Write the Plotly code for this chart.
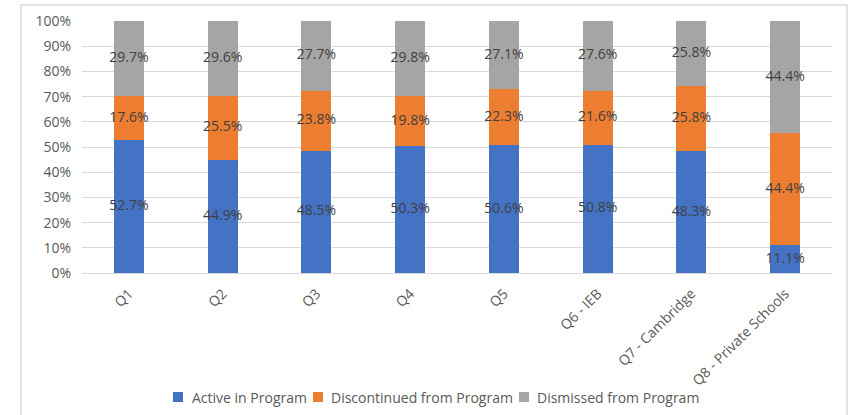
import plotly.graph_objects as go

categories = ["Q1", "Q2", "Q3", "Q4", "Q5", "Q6 - IEB", "Q7 - Cambridge", "Q8 - Private Schools"]
active = [52.7, 44.9, 48.5, 50.3, 50.6, 50.8, 48.3, 11.1]
discontinued = [17.6, 25.5, 23.8, 19.8, 22.3, 21.6, 25.8, 44.4]
dismissed = [29.7, 29.6, 27.7, 29.8, 27.1, 27.6, 25.8, 44.4]
y_ticks = [0, 10, 20, 30, 40, 50, 60, 70, 80, 90, 100]

series = [
    ("Active in Program", active, "#4472C4"),
    ("Discontinued from Program", discontinued, "#ED7D31"),
    ("Dismissed from Program", dismissed, "#A5A5A5"),
]

FONT = "Open Sans"
TXT = "#595959"
L, R, T, B = 82, 19, 21, 142
W, H = 851, 415
PW, PH = W - L - R, H - T - B


def px_x(px):
    return (px - L) / PW


def px_y(py):
    return (H - B - py) / PH


fig = go.Figure()
base = [0.0] * len(categories)
label_traces = []
for name, vals, color in series:
    fig.add_trace(go.Bar(
        x=categories, y=vals, name=name, marker=dict(color=color, line=dict(width=0)),
        showlegend=False,
    ))
    mids = [b + v / 2 for b, v in zip(base, vals)]
    label_traces.append(go.Scatter(
        x=categories, y=mids, mode="text", text=[f"{v:.1f}%" for v in vals],
        textposition="middle center", showlegend=False, hoverinfo="skip",
        textfont=dict(family=FONT, size=14, color="#404040"), cliponaxis=False,
    ))
    base = [b + v for b, v in zip(base, vals)]
for t in label_traces:
    fig.add_trace(t)

# compact legend (Excel style): square swatch + text
legend_pos = [(173, 190), (313, 329), (519, 535)]
legend_y = 397
shapes = [dict(type="rect", xref="paper", yref="paper",
               x0=px_x(21), x1=px_x(847), y0=px_y(418), y1=px_y(5),
               line=dict(color="#D9D9D9", width=1.5), fillcolor="rgba(0,0,0,0)", layer="below")]
annotations = []
for (name, _, color), (sx, tx) in zip(series, legend_pos):
    shapes.append(dict(type="rect", xref="paper", yref="paper",
                       x0=px_x(sx), x1=px_x(sx + 10), y0=px_y(legend_y + 5), y1=px_y(legend_y - 5),
                       line=dict(width=0), fillcolor=color))
    annotations.append(dict(text=name, xref="paper", yref="paper", x=px_x(tx), y=px_y(legend_y),
                            xanchor="left", yanchor="middle", showarrow=False,
                            font=dict(family=FONT, size=14, color=TXT)))

fig.update_layout(
    barmode="stack", bargap=0.68,
    width=W, height=H,
    margin=dict(l=L, r=R, t=T, b=B, autoexpand=False),
    paper_bgcolor="white", plot_bgcolor="white",
    font=dict(family=FONT, size=14, color=TXT),
    showlegend=False,
    xaxis=dict(tickangle=-45, showgrid=False, showline=True, linecolor="#D9D9D9", linewidth=1,
               ticks="", automargin=False, ticklabelstandoff=6,
               tickfont=dict(family=FONT, size=14, color=TXT)),
    yaxis=dict(range=[0, 100], tickvals=y_ticks, ticktext=[f"{t}%" for t in y_ticks],
               showgrid=True, gridcolor="#D9D9D9", gridwidth=1, zeroline=False,
               showline=False, ticks="", automargin=False, ticklabelstandoff=10,
               tickfont=dict(family=FONT, size=14, color=TXT)),
    shapes=shapes,
    annotations=annotations,
)

fig.write_html("out.html")
